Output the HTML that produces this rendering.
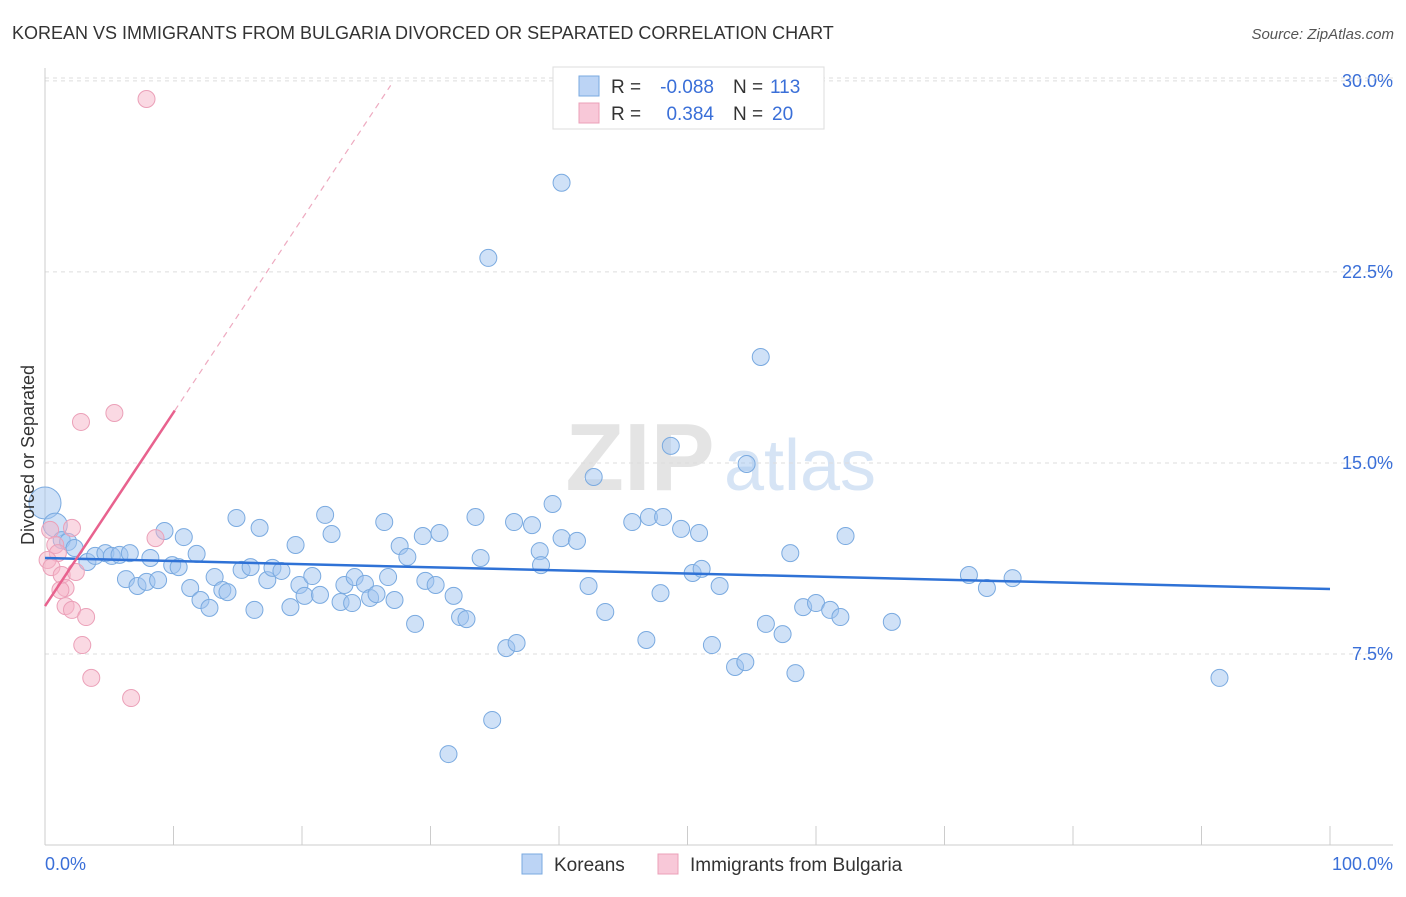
<!DOCTYPE html>
<html><head><meta charset="utf-8">
<style>
body{margin:0;background:#fff;font-family:"Liberation Sans",sans-serif;}
svg text{font-family:"Liberation Sans",sans-serif;}
</style></head>
<body>
<svg id="chart" width="1406" height="892" xmlns="http://www.w3.org/2000/svg">
<text x="12" y="39" font-size="18" fill="#333">KOREAN VS IMMIGRANTS FROM BULGARIA DIVORCED OR SEPARATED CORRELATION CHART</text>
<text x="1394" y="39" font-size="15" fill="#555" font-style="italic" text-anchor="end">Source: ZipAtlas.com</text>
<text x="640" y="490" font-size="96" fill="#e4e4e4" font-family="Liberation Serif" text-anchor="middle" font-weight="bold">ZIP</text>
<text x="800" y="490" font-size="72" fill="#d6e4f5" text-anchor="middle">atlas</text>
<g id="grid"></g>
<g id="axes"></g>
<g id="marks"></g>
<text transform="translate(34,455) rotate(-90)" font-size="18" fill="#333" text-anchor="middle">Divorced or Separated</text>
<text x="45" y="870" font-size="18" fill="#3a6fd8">0.0%</text>
<text x="1393" y="870" font-size="18" fill="#3a6fd8" text-anchor="end">100.0%</text>
<g>
<rect x="553" y="67" width="271" height="62" fill="#fff" stroke="#ddd"/>
<rect x="579" y="76" width="20" height="20" fill="#bcd4f5" stroke="#7aaae0"/>
<rect x="579" y="103" width="20" height="20" fill="#f8c8d8" stroke="#eba0b8"/>
<text x="611" y="93" font-size="19" fill="#333">R =</text>
<text x="714" y="93" font-size="19" fill="#3a6fd8" text-anchor="end">-0.088</text>
<text x="733" y="93" font-size="19" fill="#333">N =</text>
<text x="770" y="93" font-size="19" fill="#3a6fd8">113</text>
<text x="611" y="120" font-size="19" fill="#333">R =</text>
<text x="714" y="120" font-size="19" fill="#3a6fd8" text-anchor="end">0.384</text>
<text x="733" y="120" font-size="19" fill="#333">N =</text>
<text x="772" y="120" font-size="19" fill="#3a6fd8">20</text>
</g>
<g>
<rect x="522" y="854" width="20" height="20" fill="#bcd4f5" stroke="#7aaae0"/>
<text x="554" y="871" font-size="19" fill="#333">Koreans</text>
<rect x="658" y="854" width="20" height="20" fill="#f8c8d8" stroke="#eba0b8"/>
<text x="690" y="871" font-size="19" fill="#333">Immigrants from Bulgaria</text>
</g>
</svg>
<script>
const koreanX=[40.2,34.5,55.7,48.7,54.6,42.7,39.5,0,0.8,1.3,1.8,2.3,3.3,3.9,4.7,5.2,5.8,6.6,8.2,9.3,9.9,10.4,10.8,11.8,6.3,7.2,7.9,8.8,11.3,12.1,12.8,13.2,13.8,14.2,14.9,15.3,16.0,16.3,16.7,17.3,17.7,18.4,19.1,19.5,19.8,20.2,20.8,21.4,21.8,22.3,23.0,23.3,23.9,24.1,24.9,25.3,25.8,26.4,26.7,27.2,27.6,28.2,28.8,29.4,29.6,30.4,30.7,31.4,31.8,32.3,32.8,33.5,33.9,34.8,35.9,36.7,36.5,37.9,38.5,38.6,40.2,41.4,42.3,43.6,45.7,46.8,47.0,47.9,48.1,49.5,50.4,50.9,51.1,51.9,52.5,53.7,54.5,56.1,57.4,58.0,58.4,59.0,60.0,61.1,61.9,62.3,65.9,71.9,73.3,75.3,91.4];
const koreanY=[26.0,23.05,19.16,15.67,14.96,14.45,13.39,13.43,12.56,11.97,11.9,11.66,11.11,11.35,11.46,11.35,11.39,11.46,11.27,12.33,10.99,10.91,12.09,11.43,10.44,10.17,10.33,10.4,10.09,9.62,9.31,10.52,10.01,9.93,12.84,10.8,10.91,9.23,12.45,10.4,10.88,10.76,9.34,11.78,10.21,9.78,10.56,9.82,12.96,12.21,9.54,10.21,9.5,10.52,10.25,9.7,9.85,12.68,10.52,9.62,11.74,11.31,8.68,12.13,10.37,10.21,12.25,3.57,9.78,8.95,8.87,12.88,11.27,4.91,7.73,7.93,12.68,12.56,11.54,10.99,12.05,11.94,10.17,9.15,12.68,8.05,12.88,9.89,12.88,12.41,10.68,12.25,10.84,7.85,10.17,6.99,7.18,8.68,8.28,11.46,6.75,9.34,9.5,9.23,8.95,12.13,8.76,10.6,10.09,10.48,6.56];
const bulgX=[7.9,5.4,2.8,0.4,2.1,8.6,0.8,1.0,0.2,0.5,1.3,2.4,1.6,1.2,1.6,2.1,3.2,2.9,3.6,6.7];
const bulgY=[29.29,16.96,16.61,12.37,12.45,12.05,11.78,11.46,11.19,10.91,10.6,10.72,10.09,10.01,9.38,9.23,8.95,7.85,6.56,5.77];
const yTicks=[7.5,15,22.5,30];
const yTickLabels=["7.5%","15.0%","22.5%","30.0%"];
const xTicks=[0,10,20,30,40,50,60,70,80,90,100];
const koreanTrend=[11.27,10.05];
const bulgTrendIntercept=9.38, bulgTrendSlope=0.76;

const X=v=>45+v*12.85, Y=v=>845-v*25.47;
const NS="http://www.w3.org/2000/svg";
function mk(tag,attrs,parent){const e=document.createElementNS(NS,tag);for(const k in attrs)e.setAttribute(k,attrs[k]);document.getElementById(parent).appendChild(e);return e;}
yTicks.forEach((t,i)=>{
 const l=mk('line',{x1:45,x2:1393,y1:Y(t),y2:Y(t),stroke:'#ddd','stroke-dasharray':'4,4'},'grid');
 
 
 const tx=mk('text',{x:1393,y:Y(t)+6,'font-size':18,fill:'#3a6fd8','text-anchor':'end'},'grid');
 tx.textContent=yTickLabels[i];
 
 
});
const topGrid=mk('line',{x1:45,x2:1393,y1:78,y2:78,stroke:'#ddd','stroke-dasharray':'4,4'},'grid');


const ya=mk('line',{x1:45,x2:45,y1:68,y2:845,stroke:'#ccc'},'axes');


const xa=mk('line',{x1:45,x2:1393,y1:845,y2:845,stroke:'#ccc'},'axes');


xTicks.forEach(t=>{
 const l=mk('line',{x1:X(t),x2:X(t),y1:826,y2:845,stroke:'#ccc'},'axes');
 
 
});
koreanX.forEach((x,i)=>{
 const r=i===7?16:(i===8?12:8.5);
 const c=mk('circle',{cx:X(x),cy:Y(koreanY[i]),r:r,fill:'rgba(160,196,240,0.5)',stroke:'#7aaae0','stroke-width':1},'marks');
 
 
});
bulgX.forEach((x,i)=>{
 const c=mk('circle',{cx:X(x),cy:Y(bulgY[i]),r:8.5,fill:'rgba(245,180,200,0.5)',stroke:'#eba0b8','stroke-width':1},'marks');
 
 
});
const kt=mk('line',{x1:X(0),y1:Y(koreanTrend[0]),x2:X(100),y2:Y(koreanTrend[1]),stroke:'#2f72d6','stroke-width':2.5},'marks');


const bt=mk('line',{x1:X(0),y1:Y(bulgTrendIntercept),x2:X(10.1),y2:Y(bulgTrendIntercept+bulgTrendSlope*10.1),stroke:'#e8628e','stroke-width':2.5},'marks');


const bd=mk('line',{x1:X(10.1),y1:Y(bulgTrendIntercept+bulgTrendSlope*10.1),x2:X(26.9),y2:Y(bulgTrendIntercept+bulgTrendSlope*26.9),stroke:'#eeaac0','stroke-width':1.2,'stroke-dasharray':'6,5'},'marks');


</script>
</body></html>
